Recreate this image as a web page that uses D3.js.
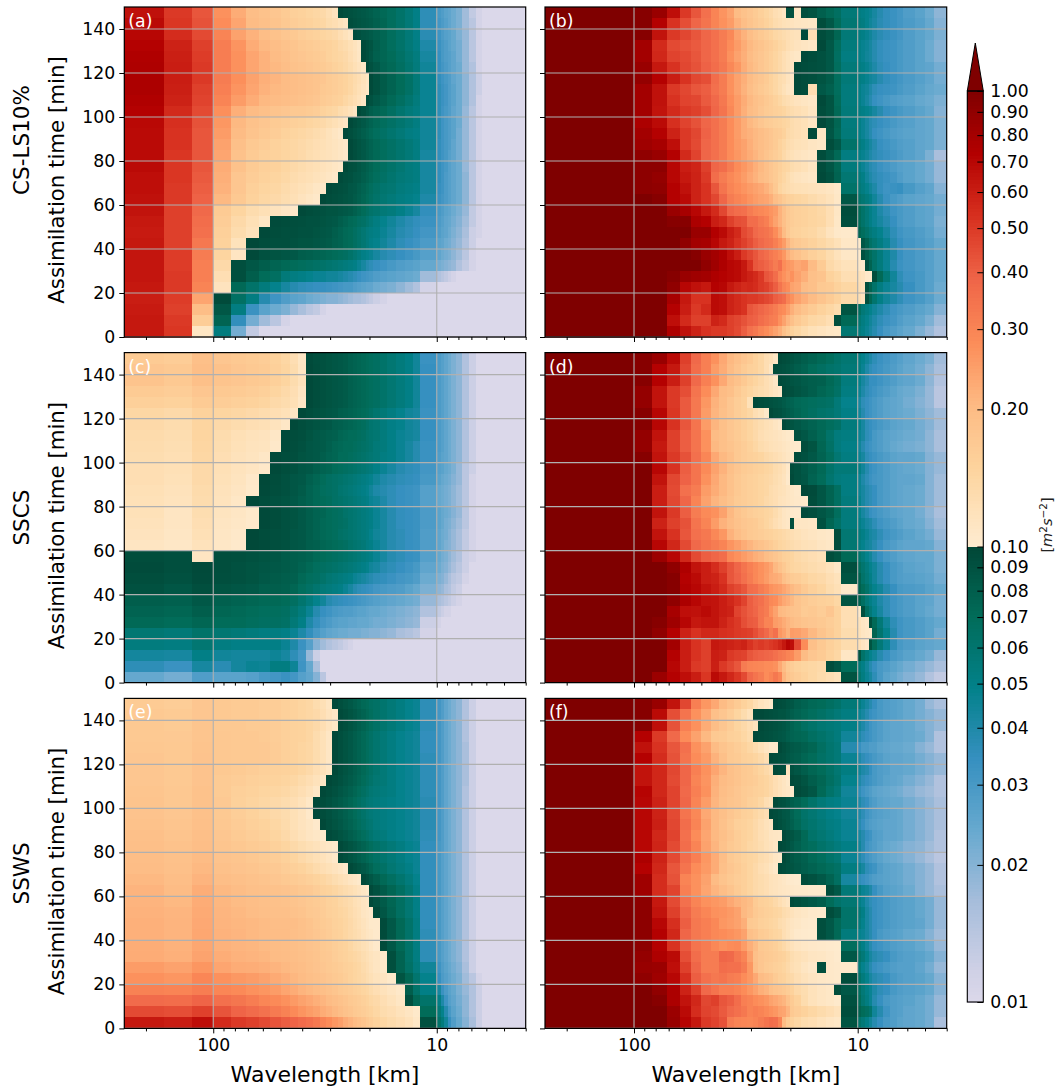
<!DOCTYPE html>
<html>
<head>
<meta charset="utf-8">
<script src="https://cdn.jsdelivr.net/npm/d3@7"></script>
<style>
  body { margin: 0; background: #fff; }
  svg { display: block; font-family: 'DejaVu Sans', sans-serif; }
</style>
</head>
<body>
<svg id="chart" width="1059" height="1090"></svg>
<script>
// wavenumber edges of the spectral bins (wavelength = 500 km / k)
var kEdges = [2,3,4,5,6,7,8,9,10,11,12,13,14,15,16,17,18,19,20,21,22,23,24,25,26,28,30,33,36,39,42,50,52,54,56,58,61,65,70,75,80,90,100,110,125];
var timeTicks = [0,20,40,60,80,100,120,140];
var majorWave = [100,10];
var minorWave = [200,90,80,70,60,50,40,30,20,9,8,7,6,5,4];
var rowNames = ['CS-LS10%','SSCS','SSWS'];
var panelNames = ['(a)','(b)','(c)','(d)','(e)','(f)'];
var cbarTicks = [1,0.9,0.8,0.7,0.6,0.5,0.4,0.3,0.2,0.1,0.09,0.08,0.07,0.06,0.05,0.04,0.03,0.02,0.01];
var upperColors = ['#fff7ec','#fee8c8','#fdd49e','#fdbb84','#fc8d59','#ef6548','#d7301f','#b30000','#7f0000'];
var lowerColors = ['#fff7fb','#ece2f0','#d0d1e6','#a6bddb','#67a9cf','#3690c0','#02818a','#016c59','#014636'];

// values in 10^-3 m2/s2, rows run from 145-150 min down to 0-5 min
// left panels: missing trailing bins are at the floor value
var floorValue = 10;
var panelA = [
[650,500,420,270,225,195,185,175,165,155,150,145,140,135,125,115,95,92,90,88,86,84,82,80,76,72,68,62,56,50,36,30,28,26,25,23,21,17,13,11],
[680,510,430,280,235,200,190,180,170,160,155,150,145,140,130,125,118,112,93,90,88,86,84,82,78,74,68,62,56,50,36,31,29,27,25,23,21,17,14,11],
[700,540,450,300,240,215,195,185,175,170,160,155,150,145,140,135,125,118,110,93,90,87,85,82,78,74,68,62,56,50,37,32,29,27,26,24,21,18,14,11],
[720,580,480,315,265,225,205,195,185,178,170,165,160,155,150,145,135,130,122,116,108,96,92,88,80,74,68,62,56,51,40,33,30,28,26,24,22,18,14,11],
[740,590,490,315,270,235,215,200,190,180,175,170,165,160,150,145,140,135,125,118,110,96,92,86,78,74,70,64,58,53,42,34,30,28,27,25,22,18,14,11],
[750,600,500,315,270,235,215,205,195,185,180,175,170,165,158,150,145,138,130,122,115,108,96,90,84,76,72,66,60,54,44,34,31,29,27,25,23,18,15,11],
[760,600,500,320,275,240,220,210,200,195,190,185,180,175,165,160,155,148,140,132,125,118,110,96,90,82,76,70,64,56,46,35,32,30,28,25,23,19,15,12],
[760,590,480,310,265,235,215,205,200,195,190,185,180,170,165,160,155,148,140,130,122,115,108,96,90,82,76,70,64,56,46,36,33,31,28,26,23,19,15,12],
[740,580,470,300,250,225,205,200,195,190,185,180,175,165,160,155,150,140,132,125,118,110,96,90,84,78,72,66,60,54,46,36,33,31,28,26,23,19,15,11],
[720,550,450,275,220,200,190,180,175,170,170,165,160,150,145,140,130,125,118,110,96,92,86,80,76,72,66,60,55,52,46,36,32,30,28,25,23,18,14,11],
[690,530,430,260,205,185,175,165,160,155,150,145,140,135,128,122,116,110,96,92,88,84,80,76,72,68,64,60,56,52,44,36,32,30,28,26,23,18,14,11],
[680,520,420,250,200,180,170,160,150,145,140,135,130,125,118,112,106,96,92,88,84,80,76,72,68,64,60,56,52,50,44,36,32,30,28,26,22,18,14,11],
[680,520,420,240,190,170,160,150,145,140,135,130,125,122,118,114,110,106,96,92,88,84,80,76,72,68,64,60,56,52,44,35,32,30,28,25,22,18,14,11],
[680,510,420,235,185,165,155,150,145,140,135,128,124,120,118,114,110,106,96,92,88,84,80,76,72,68,64,60,56,52,42,35,32,30,27,25,22,18,14,11],
[680,510,420,225,185,165,155,150,142,135,130,125,122,118,114,110,106,96,92,90,86,82,78,74,70,66,62,58,54,52,42,35,32,30,27,25,23,18,14,11],
[660,510,410,220,175,160,150,145,138,130,125,122,118,114,110,106,95,92,90,86,84,80,76,72,68,64,60,56,54,52,42,35,32,29,27,25,23,19,14,11],
[660,500,400,215,175,155,145,140,132,125,120,116,110,106,96,94,92,90,86,84,80,76,72,68,64,60,58,54,52,50,42,34,32,29,27,25,23,19,14,11],
[650,500,390,205,170,150,140,135,128,122,115,110,106,97,94,92,90,88,86,82,78,74,70,66,62,58,55,52,50,48,40,33,31,29,27,25,23,19,14,11],
[640,480,370,165,145,130,122,116,110,106,96,94,92,90,88,88,86,84,82,78,74,70,66,62,60,56,54,50,46,42,35,30,28,26,25,23,21,18,13,11],
[620,480,360,160,135,122,110,95,94,93,92,90,90,88,86,84,80,76,72,70,66,64,60,56,52,48,44,40,37,35,33,29,27,25,24,22,20,17,13,11],
[610,480,350,155,130,118,96,94,92,92,90,90,88,86,84,80,76,72,70,66,62,58,54,52,50,46,42,38,36,34,31,28,26,25,23,21,19,16,12,11],
[620,480,330,150,118,97,94,92,92,90,88,88,86,84,82,78,76,72,70,66,62,58,54,50,48,44,40,36,34,32,29,26,25,23,22,20,18,15,12,10],
[630,490,320,145,112,96,90,88,86,84,80,78,76,74,72,70,68,66,62,58,54,50,48,46,42,38,36,34,32,30,27,25,23,22,21,19,17,14,11,10],
[630,490,310,135,92,85,80,75,72,70,68,66,64,62,60,58,56,54,52,50,46,42,38,36,34,32,30,28,27,26,24,22,21,20,19,18,15,13,11,10],
[630,500,310,125,92,80,70,66,55,52,50,48,46,46,44,44,42,40,38,36,34,32,31,30,28,27,26,25,24,23,17,15,14,13,12,11,10,10,10,10],
[620,500,300,115,72,62,54,48,42,38,36,35,34,34,33,32,31,30,30,28,27,26,25,25,23,22,21,19,17,15,11,10],
[600,490,235,95,65,52,38,32,28,26,25,23,22,21,20,20,19,18,17,16,16,15,14,13,12,11,10],
[610,480,195,85,52,33,26,23,21,18,16,14,13,11],
[620,500,160,75,35,22,17,14,11],
[620,510,110,53,22,13]
];
var panelC = [
[165,160,190,175,170,165,160,150,140,125,110,95,92,90,88,86,84,82,78,76,74,72,70,68,66,62,58,54,50,44,33,29,27,25,23,21,19,15,12],
[175,170,195,185,175,170,165,155,145,130,112,96,93,90,88,86,84,82,78,76,74,72,70,68,66,62,58,54,50,44,34,29,27,25,23,21,19,15,12],
[180,170,190,180,175,170,165,155,145,130,118,96,93,90,88,86,84,82,78,76,74,72,70,68,66,62,58,54,50,44,34,29,27,25,23,21,19,15,12],
[165,160,175,170,165,160,155,145,135,125,112,96,93,90,88,86,84,82,78,76,74,72,70,68,66,62,58,54,50,44,34,29,27,25,23,21,19,15,12],
[155,150,165,160,155,150,145,135,130,122,108,96,93,90,88,86,84,82,78,76,74,72,70,68,66,62,58,54,50,44,34,29,27,25,23,21,19,15,12],
[140,135,150,145,140,135,130,125,120,110,96,93,90,88,86,84,80,78,76,74,72,70,68,64,60,56,52,48,44,42,33,29,27,25,23,21,19,15,12],
[135,130,145,135,130,125,122,116,108,96,93,90,88,86,84,80,78,76,74,72,70,68,64,60,58,54,50,48,44,42,34,29,27,25,23,21,19,15,12],
[132,128,145,130,122,118,115,108,96,94,92,88,84,82,80,78,74,72,70,70,68,66,62,60,58,54,50,46,44,42,34,29,27,25,23,21,19,15,12],
[130,126,142,128,120,116,114,106,96,93,90,86,84,82,78,74,72,70,70,68,66,64,62,60,56,54,50,46,42,38,33,29,27,25,23,21,19,15,12],
[128,124,140,125,118,114,108,96,94,92,88,86,84,80,76,74,70,70,68,66,64,62,60,58,56,52,50,46,42,38,33,28,26,25,23,21,19,15,12],
[125,122,135,122,116,112,106,96,93,90,86,84,80,76,74,70,68,66,64,62,60,58,56,54,50,46,42,38,36,35,31,27,26,24,23,21,18,14,12],
[125,120,135,120,114,106,97,94,90,86,84,78,74,70,66,64,62,60,58,56,54,52,50,48,44,40,38,36,35,34,30,26,24,23,22,20,18,14,11],
[122,118,132,118,112,105,96,93,90,86,82,76,72,68,66,64,60,58,56,54,52,50,48,44,40,38,36,34,33,32,27,24,23,22,21,19,17,14,11],
[120,116,130,116,108,97,94,90,88,84,80,76,72,70,68,64,62,60,58,56,54,52,50,46,44,40,36,34,33,32,27,24,23,22,21,19,17,14,11],
[120,112,128,114,110,105,96,94,90,88,84,80,76,74,70,68,66,62,60,58,56,54,52,50,46,42,38,35,34,33,29,26,24,23,22,20,18,14,11],
[118,112,125,112,108,104,96,94,90,88,84,80,76,72,70,68,66,64,60,58,56,54,52,50,46,42,38,35,34,33,29,26,24,22,21,19,17,14,11],
[115,110,122,110,106,97,94,92,90,86,84,80,76,72,70,68,64,62,60,58,56,54,52,48,44,42,38,36,34,33,28,25,23,22,20,18,16,13,11],
[112,108,118,108,104,97,95,92,90,86,84,80,78,74,72,70,68,66,62,60,58,56,52,50,46,42,38,36,34,33,28,25,23,21,20,18,16,13,11],
[94,92,112,93,92,90,88,86,82,80,78,76,72,70,68,66,64,62,60,58,56,54,52,50,46,42,38,36,34,33,27,24,22,21,19,17,15,12,11],
[95,92,96,93,90,88,86,84,82,80,76,72,68,66,64,62,60,58,56,54,52,50,48,44,42,38,36,34,32,30,25,23,21,20,18,16,14,12],
[93,90,95,92,90,88,84,82,80,78,72,68,66,62,58,56,54,52,50,46,44,42,40,38,36,35,33,31,30,28,23,21,20,18,16,14,13,11],
[90,86,92,88,86,84,80,80,78,74,68,64,60,56,54,52,50,46,42,38,36,35,34,33,31,30,29,28,26,24,21,19,18,16,15,13,12],
[80,78,84,78,76,74,72,72,70,66,60,54,48,44,38,36,35,34,33,32,31,30,29,28,27,26,25,24,23,22,18,16,15,14,13,12,11],
[76,74,80,74,72,70,68,68,66,60,54,46,38,34,32,30,29,28,28,27,26,26,25,24,24,23,22,21,20,19,15,13,12,11,11],
[72,70,74,70,70,68,66,66,64,56,50,40,35,31,29,27,26,26,25,25,24,24,24,23,22,22,21,20,19,18,12,11],
[58,56,62,58,56,54,52,52,50,46,40,35,30,27,25,24,23,23,22,22,22,21,21,20,20,19,18,16,15,14,11],
[53,52,58,52,50,50,50,50,46,40,33,27,20,17,15,14,13,12,11],
[43,42,50,44,43,43,43,45,42,36,31,18,12],
[36,33,42,37,43,46,45,52,52,45,32,24,16],
[24,22,28,26,26,27,30,31,33,31,27,25,20,14]
];
var panelE = [
[165,160,175,170,165,165,160,160,155,150,145,140,130,122,112,97,92,88,84,80,76,72,70,66,64,60,56,52,48,46,36,31,28,25,23,21,19,15,12],
[170,165,175,170,165,165,160,160,155,150,145,140,135,125,115,108,95,92,88,84,80,76,72,68,64,60,56,52,48,46,36,31,28,25,23,21,19,15,12],
[170,165,178,170,170,165,165,160,155,150,148,142,135,125,115,108,95,92,88,84,80,76,72,68,64,60,56,52,48,46,36,31,28,25,23,21,19,15,12],
[170,168,178,172,170,170,165,160,155,150,148,142,130,120,110,97,92,88,84,80,76,72,68,64,60,56,52,48,46,44,35,31,28,25,23,21,19,15,12],
[172,170,180,172,170,170,168,162,155,150,145,140,130,120,110,97,92,88,84,80,76,72,68,64,60,56,52,48,46,44,35,31,28,25,23,21,19,16,12],
[175,170,182,172,170,170,168,162,155,150,145,140,130,120,110,97,92,88,84,80,76,72,68,64,60,56,52,48,46,44,36,31,28,25,23,21,19,16,12],
[175,170,182,170,165,160,155,152,150,148,142,135,125,118,110,97,92,88,84,80,76,72,68,64,60,56,52,48,46,44,36,31,28,25,23,21,19,16,12],
[175,170,182,165,160,155,150,148,145,140,132,125,118,108,97,94,90,86,82,78,74,70,66,62,58,56,52,48,46,44,36,31,28,25,23,21,19,16,12],
[178,172,185,165,155,150,145,142,138,132,125,118,108,97,94,90,86,82,78,74,70,66,62,58,56,54,52,48,46,44,36,31,28,25,23,21,19,15,12],
[180,172,185,168,152,146,140,135,130,125,118,108,97,94,90,86,82,78,74,70,66,62,58,56,54,52,50,48,46,44,37,31,28,25,23,21,19,15,12],
[182,175,188,170,158,150,142,135,130,122,115,106,97,94,90,86,82,78,74,70,66,62,58,56,54,52,50,48,46,44,37,31,28,25,23,21,19,15,12],
[185,178,190,172,162,155,148,140,132,122,115,110,104,97,92,88,84,80,76,72,68,64,60,58,54,52,50,48,46,44,37,31,28,25,23,21,19,15,12],
[190,180,192,175,165,158,152,145,135,125,118,112,108,102,95,92,88,84,80,76,72,68,64,60,56,54,50,48,46,44,36,31,28,25,23,21,19,15,12],
[192,185,195,178,172,165,160,152,145,135,128,122,118,112,108,104,96,92,88,84,80,76,72,68,64,60,56,52,48,46,35,30,28,25,23,21,19,15,12],
[195,188,200,182,178,172,165,160,152,145,135,128,122,118,112,106,96,92,88,84,80,76,72,68,64,60,56,52,48,46,35,30,27,25,23,21,19,15,12],
[198,190,205,188,182,178,172,168,160,155,148,140,132,125,120,115,110,104,96,92,88,84,80,74,68,64,58,54,50,46,35,30,27,25,23,21,19,15,12],
[205,195,212,195,190,185,180,175,170,165,160,155,148,142,135,128,122,118,112,108,104,96,92,86,80,72,66,60,54,48,35,30,27,25,23,21,19,15,12],
[212,200,222,205,198,190,188,185,182,178,172,168,160,152,148,142,135,130,125,120,115,110,105,96,90,82,74,66,58,50,35,30,27,25,23,21,19,15,12],
[212,205,225,208,200,195,190,188,185,180,175,170,165,160,152,148,140,135,130,122,118,112,108,96,90,82,74,66,58,50,35,30,27,25,23,21,19,15,12],
[215,210,228,210,205,198,192,190,190,185,180,172,168,162,155,150,145,140,132,125,120,112,108,104,96,86,76,66,58,50,35,30,27,25,23,21,19,15,12],
[218,212,230,212,208,205,200,195,195,195,188,180,172,165,160,152,148,142,135,128,122,116,110,105,104,95,84,72,62,52,35,30,27,25,23,21,19,15,12],
[218,212,232,215,210,205,200,198,198,192,188,182,175,168,162,155,150,142,135,130,125,118,112,108,104,95,84,72,62,52,36,30,27,25,23,21,19,15,12],
[222,215,232,215,210,208,202,198,195,192,188,182,178,170,165,158,152,148,140,132,128,122,118,110,104,95,84,72,62,52,36,30,27,25,23,21,19,15,12],
[225,218,238,222,215,212,208,200,198,195,190,185,180,172,168,160,155,150,145,140,135,128,122,116,112,104,92,76,62,52,36,30,27,25,23,21,19,15,12],
[250,240,262,235,225,222,218,212,205,200,195,188,182,175,170,165,160,155,150,145,140,132,125,118,112,105,92,76,64,54,44,32,28,26,24,22,20,16,12],
[270,262,295,270,258,250,240,228,218,208,200,192,188,182,175,170,165,158,150,145,140,135,128,122,116,112,105,88,74,60,48,34,29,27,25,23,21,17,14,11],
[305,300,315,295,285,270,262,250,235,225,212,205,198,192,185,178,170,165,160,155,150,145,140,132,125,118,112,106,80,62,50,42,33,29,26,24,21,18,15,12],
[365,360,385,350,335,315,295,285,270,255,240,230,220,210,200,192,185,178,170,165,160,155,148,140,135,125,118,110,92,72,62,50,40,32,27,25,22,19,15,12],
[450,440,475,425,385,365,345,325,305,285,265,250,240,225,215,205,195,185,178,170,165,160,155,148,140,130,125,118,112,105,70,56,48,38,30,26,23,19,15,12],
[620,600,660,550,500,480,450,425,400,385,365,350,330,300,280,260,245,225,212,200,190,180,170,160,150,140,132,125,118,108,90,62,54,44,34,28,24,20,16,12]
];
// right panels: the first three bins sit above the colour scale in every row
var rightLead = [1200,1200,1200];
var panelB = [
[950,850,660,500,420,350,300,265,240,200,185,175,165,155,145,135,125,120,112,92,90,110,92,88,78,72,66,56,52,50,48,46,42,38,35,33,31,28,26,23,19],
[950,720,520,440,380,340,300,270,250,215,195,180,170,160,150,140,130,125,120,118,115,112,110,108,94,84,70,58,54,52,48,44,41,37,35,33,31,29,27,24,20],
[950,640,500,460,420,380,350,320,290,240,215,195,180,170,160,150,140,135,130,125,120,118,95,125,94,88,74,56,52,50,47,44,40,37,35,33,31,28,26,24,21],
[800,550,450,430,410,380,350,320,280,250,225,205,190,180,170,160,150,140,135,125,120,115,112,108,96,84,68,54,50,47,45,42,38,35,33,32,30,28,26,23,20],
[800,560,470,450,420,380,350,320,270,240,220,200,185,175,165,155,145,135,125,118,112,108,96,94,90,84,66,52,50,47,44,42,38,35,33,32,30,28,26,23,20],
[850,620,520,460,430,390,360,330,290,260,225,205,190,175,165,155,145,135,125,118,110,96,94,92,90,84,68,55,52,50,47,44,40,36,34,32,30,28,26,25,22],
[880,720,600,520,460,440,360,320,270,240,220,200,185,175,165,150,140,130,125,115,108,96,94,92,88,82,68,56,52,50,47,44,42,38,35,33,31,29,27,25,22],
[800,650,500,460,420,400,350,320,270,240,215,195,180,170,160,150,140,130,120,112,108,96,94,125,84,78,68,54,50,46,44,40,36,34,33,32,30,28,26,24,23],
[800,650,520,470,460,410,370,330,280,250,225,205,190,180,170,160,150,140,130,125,120,115,112,108,96,88,70,54,50,46,42,38,34,32,30,28,27,26,24,23,21],
[800,640,550,500,480,440,380,340,290,250,220,200,190,175,165,160,155,150,145,135,130,125,120,112,94,88,72,55,52,50,48,46,42,38,34,32,30,28,26,24,20],
[760,680,530,470,430,380,350,320,280,250,225,205,190,175,165,160,155,150,145,140,130,125,120,112,96,88,74,54,50,46,42,38,36,34,32,30,28,27,25,24,21],
[800,720,580,500,460,390,350,320,280,250,225,215,205,195,185,175,165,160,150,135,130,125,120,96,110,86,72,55,50,46,42,38,34,32,30,28,27,26,25,24,21],
[820,780,660,500,450,380,350,320,280,255,240,220,205,195,185,175,165,150,140,130,125,120,118,112,108,94,84,62,54,50,46,42,38,34,32,30,28,27,25,24,21],
[900,850,720,550,470,380,350,320,280,260,240,225,210,195,180,170,160,150,135,125,120,115,112,108,94,84,72,52,50,47,44,40,37,35,33,31,29,27,25,21,16],
[920,920,700,600,570,480,380,360,320,280,260,240,220,205,190,175,165,155,145,140,130,125,120,112,94,86,74,54,50,46,42,38,36,33,31,29,27,26,24,22,18],
[920,880,700,620,580,500,360,320,290,270,250,230,215,200,190,175,165,150,140,130,120,115,112,108,96,90,76,58,54,50,44,40,37,35,33,31,28,26,24,22,18],
[920,900,720,650,580,520,420,340,300,280,265,250,240,230,215,195,170,145,135,130,125,122,120,118,115,112,106,62,56,52,48,44,40,35,32,33,34,30,27,25,20],
[1000,950,720,680,580,520,460,380,320,300,285,265,250,240,235,220,195,180,165,155,150,145,140,132,125,118,108,85,62,58,54,50,44,38,33,30,28,26,25,24,22],
[1000,1000,850,780,700,620,550,460,380,360,350,320,300,290,280,265,250,215,190,170,160,155,150,145,138,125,110,94,70,62,56,50,46,40,36,32,30,28,26,25,22],
[1000,1000,950,950,760,720,600,560,480,440,430,360,360,330,310,270,240,215,190,170,160,155,150,145,140,125,108,92,70,62,56,50,46,42,38,34,30,28,26,25,21],
[1000,1000,1000,1000,850,850,730,680,600,550,450,420,370,350,340,320,280,240,200,170,155,150,145,140,130,115,106,104,75,68,62,56,52,48,42,36,32,30,28,26,22],
[1000,1000,1000,900,800,780,700,620,580,520,480,440,400,370,350,340,310,280,250,210,180,170,160,150,140,130,120,108,104,85,76,64,58,52,46,38,34,31,29,27,24],
[1000,1000,1000,1000,950,850,800,750,660,600,500,460,420,380,360,330,310,290,260,220,200,185,170,155,145,130,118,108,104,90,80,70,62,54,46,40,34,31,29,27,24],
[1000,1000,1000,1000,1000,900,820,750,700,680,620,520,420,400,380,350,320,350,280,260,250,230,240,200,165,135,125,118,108,104,92,76,62,54,46,38,33,31,29,27,24],
[1000,1000,950,850,820,800,750,720,700,680,620,580,550,500,420,400,360,300,270,250,270,240,220,190,180,150,140,125,120,115,106,104,94,72,56,44,36,32,30,27,24],
[1000,1000,900,700,650,620,720,700,620,580,550,560,540,500,480,440,400,340,300,280,240,230,200,190,170,165,150,140,125,118,92,76,62,52,46,42,38,34,30,27,23],
[1000,1000,780,620,520,520,680,660,580,550,520,500,500,480,460,440,400,380,360,300,270,240,220,200,180,165,150,135,125,115,92,74,60,50,44,40,36,32,30,27,23],
[1000,1000,720,600,500,550,680,660,580,550,520,420,400,380,360,340,320,290,280,250,220,200,180,165,150,140,130,88,66,56,52,48,44,40,36,32,30,28,26,24,20],
[1000,1000,660,550,480,480,580,550,480,460,430,400,390,360,340,320,310,270,240,210,190,170,155,140,135,125,92,72,58,52,48,44,40,36,33,31,28,26,24,21,17],
[1000,1000,750,650,580,520,500,500,480,450,400,350,330,300,280,260,240,220,190,170,150,140,130,120,115,110,108,58,54,50,46,42,38,34,30,28,26,24,21,18,15]
];
var panelD = [
[950,850,680,480,370,310,270,230,205,190,175,165,150,140,125,120,110,96,94,92,88,84,80,76,72,68,62,58,52,48,44,40,36,33,31,29,27,25,23,21,17],
[950,720,620,460,360,310,250,225,200,180,165,155,150,140,125,110,94,92,90,88,84,80,76,70,66,62,60,56,52,46,40,36,34,32,30,28,26,24,22,19,16],
[950,720,600,480,370,310,270,230,200,185,170,155,145,135,125,118,108,96,94,92,88,86,82,80,78,72,66,54,48,42,38,34,34,32,30,28,26,25,23,19,15],
[880,640,500,440,340,280,230,200,190,170,155,145,135,130,125,118,112,106,96,94,92,88,84,80,74,70,64,52,46,40,36,34,32,30,28,26,24,23,21,18,14],
[880,640,500,410,330,260,215,195,175,160,150,120,96,94,92,90,88,86,82,78,76,72,70,68,66,64,56,48,42,36,34,32,30,28,26,25,24,22,20,18,14],
[950,700,510,410,330,250,210,190,175,160,150,140,125,118,106,96,92,90,86,82,78,74,70,66,62,60,56,50,44,38,34,32,30,28,26,25,24,23,21,19,17],
[950,700,520,420,340,250,210,190,175,165,155,145,135,128,122,118,112,106,96,92,88,84,80,76,72,68,64,54,48,42,36,34,32,30,28,26,25,24,22,20,17],
[880,640,480,400,340,270,200,190,175,165,155,145,135,125,120,118,115,112,108,105,102,90,85,78,72,62,54,52,46,42,36,34,30,28,26,25,24,23,22,19,16],
[880,620,480,400,340,270,205,190,180,170,160,150,140,130,125,120,118,115,112,108,105,102,94,88,74,64,54,50,44,38,34,32,30,28,26,24,23,22,21,19,16],
[950,640,500,430,350,295,230,205,190,170,160,155,150,145,135,130,125,120,115,110,105,94,90,84,76,68,58,52,46,42,36,34,32,30,28,26,25,25,24,20,18],
[1000,700,520,400,340,285,240,215,190,175,165,160,155,150,145,140,130,125,118,106,94,90,84,78,72,62,56,56,50,44,38,34,32,30,28,26,25,24,23,20,18],
[1000,640,460,390,340,270,230,205,185,170,160,155,150,145,140,135,128,122,115,104,96,90,86,76,70,60,54,52,46,40,36,33,31,30,28,26,25,25,24,20,17],
[1000,600,450,350,320,250,225,205,185,170,160,155,150,145,140,130,125,120,118,112,108,104,98,95,86,76,66,52,46,42,38,36,34,30,28,26,25,24,23,20,17],
[1000,600,460,380,300,240,210,195,180,165,160,155,150,145,135,130,125,118,115,112,108,106,104,94,86,76,66,54,48,42,38,36,34,30,28,26,25,24,23,20,17],
[1000,640,500,400,320,285,270,240,205,180,170,160,155,150,145,140,130,120,112,108,104,102,95,92,86,80,68,54,48,42,38,34,32,30,28,26,25,24,22,19,16],
[1000,580,480,430,340,300,250,215,200,185,175,170,165,155,145,135,125,118,112,108,92,110,110,108,90,74,64,54,50,46,42,40,36,32,30,28,26,24,23,20,17],
[1000,640,520,420,350,330,290,260,215,195,180,170,165,160,155,150,145,140,135,130,125,120,115,112,108,106,94,58,54,50,46,42,40,36,32,30,28,26,24,22,18],
[1000,700,560,450,370,340,320,300,265,245,225,210,195,185,175,165,155,145,140,135,130,125,120,118,112,108,94,58,52,48,44,42,38,34,30,28,26,25,25,24,20],
[1200,840,700,560,450,400,380,360,290,270,250,235,220,210,195,185,175,165,155,150,145,135,130,125,120,94,88,72,60,54,48,44,38,34,30,28,26,25,24,24,21],
[1200,1000,900,750,640,600,540,480,420,380,340,310,290,270,255,235,205,185,170,155,145,140,135,130,125,118,108,92,68,60,54,48,44,38,34,30,28,26,25,24,21],
[1200,1000,950,720,680,600,580,520,420,390,350,320,290,270,250,230,225,215,190,175,165,160,150,140,135,125,118,88,76,62,56,50,44,38,34,30,28,27,26,25,22],
[1200,1000,950,740,700,640,600,550,480,450,420,360,350,320,300,270,260,250,235,220,205,190,170,155,145,130,122,106,78,70,62,54,48,44,38,34,30,29,28,26,24],
[1200,1000,900,760,700,650,640,600,560,520,470,400,370,350,320,290,280,250,230,220,205,180,170,160,155,150,140,88,78,66,56,50,46,40,36,32,30,28,26,25,22],
[1200,1000,780,660,650,680,640,600,580,470,430,400,380,340,320,270,240,205,200,190,185,180,165,170,160,175,150,125,106,92,66,56,48,42,36,32,30,28,26,24,22],
[1200,950,820,700,620,640,640,580,530,500,440,410,400,340,300,300,250,240,225,210,200,190,180,175,170,160,150,125,118,110,106,92,72,56,44,36,32,30,28,26,24],
[1200,900,720,580,520,560,560,530,520,500,490,480,440,400,370,320,350,260,240,215,250,245,230,205,180,165,150,130,120,112,108,104,76,60,48,38,32,30,28,26,22],
[1200,1000,800,600,520,480,620,600,580,560,580,520,480,500,480,500,520,560,620,700,660,450,280,190,170,155,145,130,122,112,106,88,70,56,46,36,30,28,26,25,24],
[1200,1000,720,600,520,480,600,580,500,480,470,420,400,390,380,370,350,330,320,300,290,250,200,175,165,150,140,110,88,62,54,48,44,38,34,30,28,26,24,22,18],
[1200,1000,700,600,500,480,590,500,460,420,320,300,295,290,280,280,270,230,200,170,160,150,145,140,135,94,86,70,56,50,44,38,34,30,28,26,24,22,20,18,16],
[1200,840,720,660,600,510,680,620,560,510,450,370,340,320,280,300,330,300,210,180,170,160,150,140,132,125,118,88,60,52,46,42,36,30,26,24,22,20,18,15,13]
];
var panelF = [
[950,850,640,460,310,260,230,200,180,165,150,140,125,115,110,105,96,94,92,88,86,80,76,72,70,66,62,56,52,46,42,38,34,30,28,27,26,24,22,18,16],
[950,680,440,340,270,230,190,175,160,145,130,118,96,96,94,92,90,88,88,84,80,76,72,68,64,60,56,52,46,42,38,34,32,30,28,27,26,24,22,20,18],
[950,660,430,310,270,225,195,175,160,145,135,125,116,96,94,92,90,88,86,82,76,72,66,62,58,56,54,50,44,40,36,32,30,28,26,25,25,24,22,20,18],
[720,500,370,280,240,205,170,165,155,150,140,130,96,94,92,90,88,86,84,80,76,74,72,66,62,58,54,44,40,36,34,32,30,28,26,25,25,24,23,20,15],
[650,520,420,350,270,240,200,180,170,160,150,140,130,120,112,105,104,96,92,88,84,82,78,74,66,60,56,38,34,30,30,28,28,26,25,24,24,23,20,18,15],
[720,540,430,340,280,255,215,190,170,165,155,150,145,135,125,96,94,92,90,86,82,80,74,70,64,60,56,46,40,36,34,32,30,28,26,25,25,24,22,20,18],
[640,560,460,380,310,270,235,210,190,180,170,165,155,145,135,125,96,94,92,115,90,86,80,74,70,64,58,52,44,40,38,34,30,28,27,25,25,24,22,20,18],
[640,560,450,380,300,265,220,200,190,180,170,165,160,150,145,135,125,118,112,105,96,94,88,80,74,66,60,48,40,36,34,32,30,28,26,25,24,22,20,18,15],
[710,560,470,370,310,270,215,195,185,175,165,160,155,150,145,135,125,118,112,108,104,96,92,86,72,62,56,44,36,32,30,28,26,25,24,23,22,20,18,17,15],
[700,580,470,380,300,250,210,190,180,175,165,155,150,140,125,118,96,92,90,86,80,76,70,62,56,52,50,46,40,36,34,30,28,26,25,24,24,22,20,18,16],
[700,580,450,340,290,230,205,190,175,165,155,150,140,132,125,96,94,90,86,84,76,70,62,58,54,50,48,44,40,36,32,30,28,27,26,25,24,22,20,18,16],
[700,590,460,360,300,240,205,185,170,155,150,145,135,125,118,112,96,92,88,84,78,72,64,60,56,52,50,46,38,34,30,28,27,26,25,25,24,22,20,18,16],
[700,560,470,350,280,235,205,190,175,160,150,145,135,125,120,112,110,108,96,92,88,82,72,62,58,54,50,46,42,38,34,32,28,27,25,25,24,22,20,18,15],
[700,570,450,360,300,240,210,185,170,160,150,140,135,128,120,115,110,96,94,90,84,78,72,68,62,58,54,50,44,38,32,30,28,26,24,23,22,20,19,17,15],
[760,580,450,360,310,260,225,195,170,160,150,145,140,130,125,118,110,106,96,92,86,82,78,72,68,62,58,46,40,36,32,30,28,26,24,23,22,20,18,16,14],
[720,560,420,340,280,255,225,190,175,165,155,145,135,125,120,112,106,96,94,90,88,84,80,76,72,68,64,52,46,42,36,34,32,28,26,25,24,22,20,18,15],
[820,540,430,300,270,240,200,180,170,160,155,145,135,130,125,118,115,112,108,104,102,100,94,90,84,76,66,42,36,34,32,30,28,27,26,25,24,22,20,18,15],
[820,540,470,310,270,235,210,195,180,165,155,145,135,130,125,118,115,112,110,108,106,104,104,102,102,94,84,56,52,46,44,40,34,30,27,26,25,23,20,18,16],
[920,620,450,350,300,270,260,250,230,215,205,195,165,155,150,145,135,125,118,112,95,92,88,84,80,70,62,58,50,46,40,36,34,32,30,28,27,26,24,22,18],
[920,640,480,380,320,295,270,265,255,240,205,190,170,160,155,150,145,140,130,125,118,112,108,104,102,94,86,62,56,50,42,38,34,32,30,28,27,26,24,22,18],
[920,700,530,400,330,310,290,260,250,240,220,170,165,155,150,145,140,130,125,118,112,108,104,102,92,84,72,62,54,48,42,38,34,32,30,28,27,26,25,22,18],
[920,720,560,380,330,310,290,280,270,260,240,190,180,165,160,150,145,140,125,118,110,104,102,101,92,84,72,54,48,46,42,38,34,30,28,27,26,24,23,20,17],
[920,720,520,410,340,320,290,270,280,285,250,220,200,170,165,160,155,145,135,125,118,112,108,106,104,102,101,68,56,50,44,38,34,32,30,28,27,26,24,22,18],
[880,750,680,440,360,320,320,380,370,330,300,240,190,175,170,165,160,155,150,140,128,122,118,112,110,106,102,84,62,56,48,42,38,36,34,30,28,27,26,24,20],
[860,840,660,480,380,320,320,360,350,350,320,260,195,175,165,160,155,150,145,135,125,120,112,106,92,106,104,104,56,48,44,38,34,32,30,28,27,27,25,22,18],
[900,820,700,530,400,350,330,340,320,310,280,260,230,200,190,180,165,155,150,140,135,125,118,112,108,106,104,94,62,54,48,42,38,36,34,30,28,27,26,24,20],
[1000,900,760,580,480,370,340,310,310,300,280,260,240,220,210,190,180,175,170,160,150,135,128,118,112,108,94,84,66,56,50,46,40,36,34,30,28,27,26,24,20],
[1200,950,760,640,560,460,480,420,400,360,310,300,280,270,260,240,230,220,210,185,165,150,130,118,112,108,104,90,70,58,52,46,38,34,30,28,27,26,24,22,18],
[1200,1000,840,680,540,470,450,410,370,350,330,300,310,300,285,270,260,240,235,210,170,160,150,140,132,125,118,94,76,70,66,60,44,38,32,28,27,25,24,22,18],
[1200,1000,860,710,620,500,470,430,320,300,295,290,300,320,340,360,350,300,200,165,150,140,130,125,118,112,108,88,62,56,50,44,38,34,30,28,26,25,24,22,16]
];

var leftRows = [panelA, panelC, panelE];
var rightRows = [panelB, panelD, panelF];

var svg = d3.select('#chart');
var panelTops = [7, 352.6, 698.4];
var panelH = 330;
var leftX = [124.3, 525.7], rightX = [545, 946.7];

// two truncated colour maps meet at 0.1 on a log scale
var upperRamp = d3.scaleLinear().domain(d3.range(9).map(function(i) { return i / 8; })).range(upperColors).clamp(true);
var lowerRamp = d3.scaleLinear().domain(d3.range(9).map(function(i) { return i / 8; })).range(lowerColors).clamp(true);
var upperNorm = d3.scaleLog().domain([0.1, 1]).range([0.1, 1]).clamp(true);
var lowerNorm = d3.scaleLog().domain([0.01, 0.1]).range([0.2, 1]).clamp(true);
function color(v) {
	return v >= 0.1 ? upperRamp(upperNorm(v)) : lowerRamp(lowerNorm(v));
}

function drawPanel(rows, lead, xRange, top, name, showY, showX) {
	var x = d3.scaleLog().domain([250, 4]).range(xRange);
	var y = d3.scaleLinear().domain([0, 150]).range([top + panelH, top]);
	var nCols = kEdges.length - 1;
	var g = svg.append('g');

	g.append('g')
		.selectAll('g')
		.data(rows).enter().append('g')
		.attr('shape-rendering', 'crispEdges')
		.each(function(row, i) {
			var full = lead.concat(row);
			d3.select(this).selectAll('rect')
				.data(d3.range(nCols)).enter().append('rect')
				.attr('x', function(j) { return x(500 / kEdges[j]); })
				.attr('width', function(j) { return x(500 / kEdges[j + 1]) - x(500 / kEdges[j]) + 0.5; })
				.attr('y', y(150 - 5 * i))
				.attr('height', y(150 - 5 * (i + 1)) - y(150 - 5 * i) + 0.5)
				.attr('fill', function(j) {
					var v = full[j] === undefined ? floorValue : full[j];
					return color(v / 1000);
				});
		});

	// grid over the cells
	g.append('g').selectAll('line').data(timeTicks).enter().append('line')
		.attr('x1', xRange[0]).attr('x2', xRange[1])
		.attr('y1', function(d) { return y(d); }).attr('y2', function(d) { return y(d); })
		.attr('stroke', '#b0b0b0').attr('stroke-width', 1.1);
	g.append('g').selectAll('line').data(majorWave).enter().append('line')
		.attr('y1', top).attr('y2', top + panelH)
		.attr('x1', function(d) { return x(d); }).attr('x2', function(d) { return x(d); })
		.attr('stroke', '#b0b0b0').attr('stroke-width', 1.1);

	var yAxis = g.append('g').attr('transform', 'translate(' + xRange[0] + ',0)')
		.call(d3.axisLeft(y).tickValues(timeTicks).tickSize(5).tickPadding(4).tickFormat(showY ? d3.format('d') : ''));
	var xMajor = g.append('g').attr('transform', 'translate(0,' + (top + panelH) + ')')
		.call(d3.axisBottom(x).tickValues(majorWave).tickSize(5).tickPadding(5).tickFormat(showX ? d3.format('d') : ''));
	var xMinor = g.append('g').attr('transform', 'translate(0,' + (top + panelH) + ')')
		.call(d3.axisBottom(x).tickValues(minorWave).tickSize(3).tickFormat(''));
	[yAxis, xMajor, xMinor].forEach(function(a) {
		a.select('.domain').remove();
		a.selectAll('line').attr('stroke', '#000').attr('stroke-width', 1);
		a.selectAll('text').attr('font-family', 'DejaVu Sans').attr('font-size', 17.3).attr('fill', '#000');
	});

	g.append('rect')
		.attr('x', xRange[0]).attr('y', top)
		.attr('width', xRange[1] - xRange[0]).attr('height', panelH)
		.attr('fill', 'none').attr('stroke', '#000').attr('stroke-width', 1.2);

	g.append('text')
		.attr('x', xRange[0] + 4).attr('y', top + 20)
		.attr('fill', '#fff').attr('font-size', 17.3)
		.text(name);

	if (showX) {
		g.append('text')
			.attr('x', (xRange[0] + xRange[1]) / 2).attr('y', top + panelH + 54)
			.attr('text-anchor', 'middle').attr('font-size', 22)
			.text('Wavelength [km]');
	}
	if (showY) {
		g.append('text')
			.attr('transform', 'translate(64,' + (top + panelH / 2 + 8) + ') rotate(-90)')
			.attr('text-anchor', 'middle').attr('font-size', 21.3)
			.text('Assimilation time [min]');
	}
}

rowNames.forEach(function(name, r) {
	drawPanel(leftRows[r], [], leftX, panelTops[r], panelNames[r * 2], true, r === 2);
	drawPanel(rightRows[r], rightLead, rightX, panelTops[r], panelNames[r * 2 + 1], false, r === 2);
	svg.append('text')
		.attr('transform', 'translate(29,' + (panelTops[r] + panelH / 2 - (r === 0 ? 32 : r === 1 ? 0 : -10)) + ') rotate(-90)')
		.attr('text-anchor', 'middle').attr('font-size', 21.5)
		.text(name);
});

// colour bar
var cbar = svg.append('g');
var cbY = d3.scaleLog().domain([0.01, 1]).range([1002, 91]);
var cbX = [967.3, 983.3];
var cbSteps = d3.range(256).map(function(i) { return Math.pow(10, -2 + 2 * i / 256); });
cbar.selectAll('rect').data(cbSteps).enter().append('rect')
	.attr('x', cbX[0]).attr('width', cbX[1] - cbX[0])
	.attr('y', function(d, i) { return cbY(Math.pow(10, -2 + 2 * (i + 1) / 256)); })
	.attr('height', function(d, i) { return cbY(d) - cbY(Math.pow(10, -2 + 2 * (i + 1) / 256)) + 0.5; })
	.attr('fill', function(d) { return color(d * 1.002); })
	.attr('shape-rendering', 'crispEdges');
cbar.append('path')
	.attr('d', d3.line()([[cbX[0], 91], [(cbX[0] + cbX[1]) / 2, 43], [cbX[1], 91]]) + 'Z')
	.attr('fill', '#7f0000').attr('stroke', '#000').attr('stroke-width', 1);
cbar.append('rect')
	.attr('x', cbX[0]).attr('y', 91).attr('width', cbX[1] - cbX[0]).attr('height', 911)
	.attr('fill', 'none').attr('stroke', '#000').attr('stroke-width', 1.1);
var cbAxis = cbar.append('g').attr('transform', 'translate(' + cbX[1] + ',0)')
	.call(d3.axisRight(cbY).tickValues(cbarTicks).tickSize(-6).tickPadding(7).tickFormat(d3.format('.2f')));
cbAxis.select('.domain').remove();
cbAxis.selectAll('line').attr('stroke', '#000');
cbAxis.selectAll('text').attr('font-family', 'DejaVu Sans').attr('font-size', 17.3).attr('fill', '#000');
var cbLabel = cbar.append('text')
	.attr('transform', 'translate(1052,525) rotate(-90)')
	.attr('text-anchor', 'middle').attr('font-size', 14.5).attr('fill', '#222');
cbLabel.append('tspan').text('[');
cbLabel.append('tspan').attr('font-style', 'italic').text('m');
cbLabel.append('tspan').attr('font-size', 10.5).attr('dy', -5).text('2');
cbLabel.append('tspan').attr('font-style', 'italic').attr('dy', 5).text('s');
cbLabel.append('tspan').attr('font-size', 10.5).attr('dy', -5).text('−2');
cbLabel.append('tspan').attr('dy', 5).text(']');
</script>
</body>
</html>
